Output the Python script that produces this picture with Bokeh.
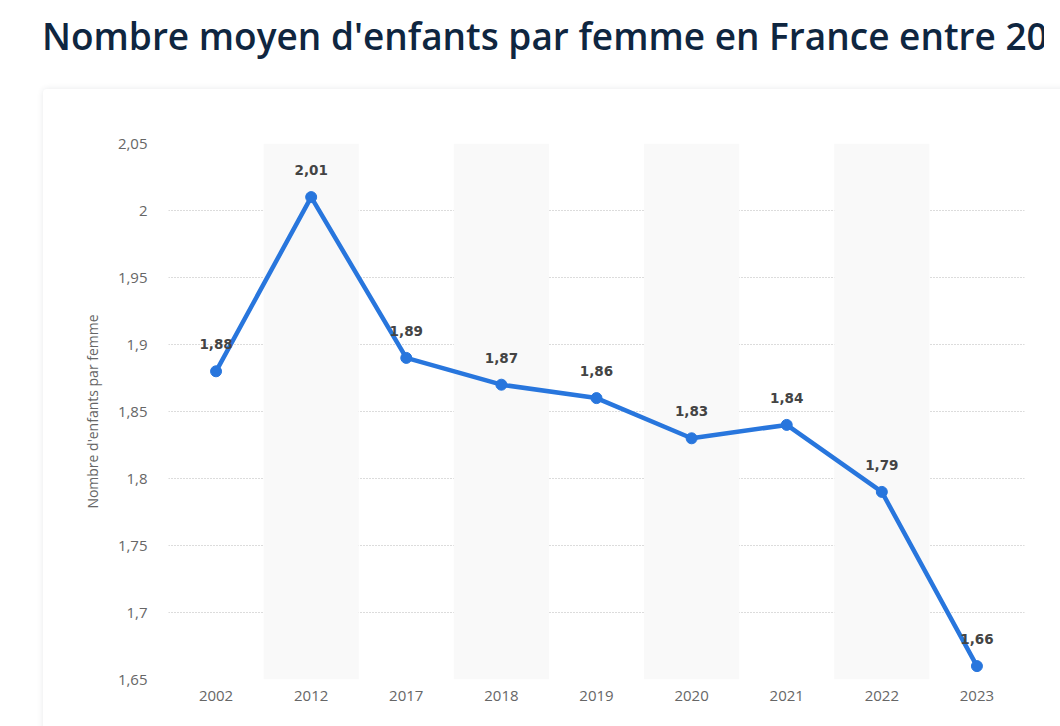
from bokeh.plotting import figure
from bokeh.layouts import column
from bokeh.models import (FactorRange, Range1d, FixedTicker, ColumnDataSource,
                          InlineStyleSheet, Div)
from bokeh.embed import file_html
from bokeh.resources import INLINE
from bokeh.core.properties import value

# ---- data ----
title_text = "Nombre moyen d'enfants par femme en France entre 2002 et 2023"
y_axis_title = "Nombre d'enfants par femme"
years = ["2002", "2012", "2017", "2018", "2019", "2020", "2021", "2022", "2023"]
fertility = [1.88, 2.01, 1.89, 1.87, 1.86, 1.83, 1.84, 1.79, 1.66]
ytick_values = [1.65, 1.7, 1.75, 1.8, 1.85, 1.9, 1.95, 2.0, 2.05]
ytick_labels = ["1,65", "1,7", "1,75", "1,8", "1,85", "1,9", "1,95", "2", "2,05"]

W = 1044
TITLE_H = 89
H = 710 - TITLE_H
FL, FR, FT, FB = 168, 1024, 143 - TITLE_H, 679 - TITLE_H  # frame box in canvas px

title = Div(
    text=(f'<div style="position:absolute; left:42px; top:12px; white-space:nowrap; '
          f'font-family:\'Open Sans\'; font-weight:600; font-size:37px; line-height:48px; '
          f'color:#0f2640;">{title_text}</div>'),
    width=W, height=TITLE_H, margin=0,
    styles={"overflow": "hidden", "position": "relative"},
)

card_css = InlineStyleSheet(css="""
:host::before {
  content: '';
  position: absolute;
  left: 43px; top: 0px; right: -30px; bottom: -30px;
  background: white;
  border-radius: 4px;
  box-shadow: 0 0 6px rgba(30, 40, 60, 0.10);
}
""")

p = figure(width=W, height=H, output_backend="svg", toolbar_location=None,
           x_range=FactorRange(*years, range_padding=0),
           y_range=Range1d(ytick_values[0], ytick_values[-1]),
           min_border_left=FL, min_border_right=W - FR,
           min_border_top=FT, min_border_bottom=H - FB,
           stylesheets=[card_css], margin=0)
p.background_fill_color = "white"
p.border_fill_color = None
p.outline_line_color = None

# alternating column shading
shade = years[1::2]
p.vbar(x=shade, top=ytick_values[-1], bottom=ytick_values[0], width=1,
       fill_color="#f9f9f9", line_color=None)

# grid
p.xgrid.grid_line_color = None
p.ygrid.ticker = FixedTicker(ticks=ytick_values)
p.ygrid.grid_line_color = "#b8b8b8"
p.ygrid.grid_line_dash = "1 2"
p.ygrid.grid_line_width = 1

# axes
for ax in (p.xaxis[0], p.yaxis[0]):
    ax.axis_line_color = None
    ax.major_tick_line_color = None
    ax.minor_tick_line_color = None
    ax.major_tick_out = 0
    ax.major_tick_in = 0
    ax.major_label_text_font = "Open Sans"
    ax.major_label_text_font_size = "15px"
    ax.major_label_text_color = "#666666"

p.xaxis.major_label_standoff = 11
p.yaxis.ticker = FixedTicker(ticks=ytick_values)
p.yaxis.major_label_overrides = dict(zip(ytick_values, ytick_labels))
p.yaxis.major_label_standoff = 21
p.yaxis.axis_label = y_axis_title
p.yaxis.axis_label_text_font = "Open Sans"
p.yaxis.axis_label_text_font_style = "normal"
p.yaxis.axis_label_text_font_size = "14px"
p.yaxis.axis_label_text_color = "#666666"
p.yaxis.axis_label_standoff = 13

# series
src = ColumnDataSource(dict(x=years, y=fertility,
                            lab=[f"{v:.2f}".replace(".", ",") for v in fertility]))
p.line("x", "y", source=src, line_color="#2876dd", line_width=4.5, line_join="round")
p.scatter("x", "y", source=src, size=11, fill_color="#2876dd", line_color="#2876dd")
p.text("x", "y", text="lab", source=src, y_offset=-27, text_align="center",
       text_baseline="middle", text_font=value("DejaVu Sans"), text_font_style="bold",
       text_font_size="13.5px", text_color="#444444")

layout = column(title, p, spacing=0)
open("out.html", "w").write(file_html(layout, INLINE))
